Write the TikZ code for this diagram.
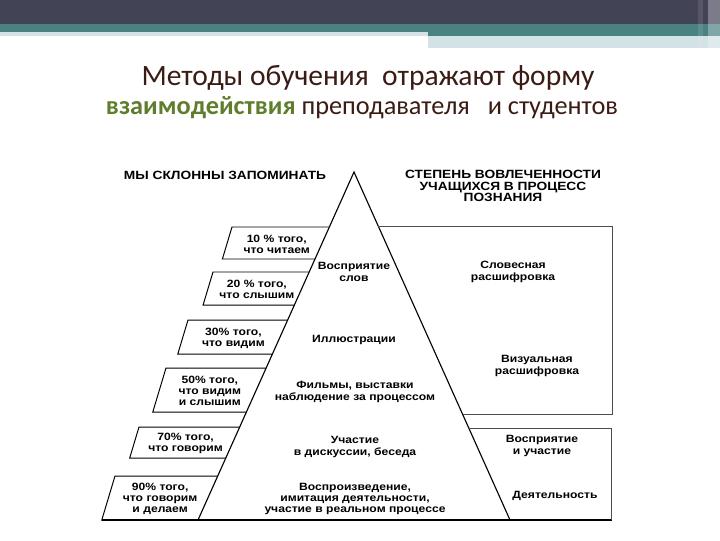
\documentclass[tikz,border=0pt]{standalone}
\usepackage{fontspec}
\setmainfont{Liberation Sans}
\newfontfamily\titlefont{Carlito}
\newfontfamily\schemefont[FakeStretch=1.15]{Liberation Sans}
\usetikzlibrary{calc}
\definecolor{HDdark}{RGB}{67,67,86}
\definecolor{HDteal}{RGB}{74,130,130}
\definecolor{HDlight}{RGB}{210,226,229}
\definecolor{TTbrown}{RGB}{58,28,20}
\definecolor{TTgreen}{RGB}{95,125,45}
\tikzset{
  lbox/.style={black, line width=0.7pt},
  rbox/.style={black!70, line width=0.6pt},
  pyr/.style={black, line width=0.8pt},
  groundline/.style={black, line width=1.2pt},
  bodytext/.style={font=\schemefont\bfseries\fontsize{7.5}{8}\selectfont, align=center, inner sep=0pt},
  headtext/.style={font=\schemefont\bfseries\fontsize{8.5}{8.3}\selectfont, align=center, inner sep=0pt}
}

\begin{document}
\begin{tikzpicture}[x=0.025cm, y=-0.025cm]
    \useasboundingbox (0,0) rectangle (720,540);
    \fill[white] (0,0) rectangle (720,540);
    % Header bars
    \fill[HDdark] (0,0) rectangle (720,24);
    \fill[HDteal] (0,24) rectangle (720,32);
    \fill[HDlight] (0,32) rectangle (428,36);
    \fill[HDteal] (428,32) rectangle (720,36);
    \fill[HDlight] (428,36) rectangle (720,48);
    \fill[white, opacity=0.3] (708,0) rectangle (720,48);
    \fill[white, opacity=0.1] (698,0) rectangle (703,48);
    % Title
    \node[font=\titlefont\fontsize{21}{24}\selectfont, text=TTbrown] (title1) at (368,78)
      {Методы обучения\ \ отражают форму};
    \node[font=\titlefont\fontsize{18.7}{22}\selectfont, text=TTbrown] (title2) at (362,108)
      {\textcolor{TTgreen}{\bfseries взаимодействия} преподавателя\ \ \ и студентов};
    % Pyramid
    \coordinate (apex) at (354,172);
    \coordinate (pbl) at (198,520);
    \coordinate (pbr) at (510,520);
    \draw[pyr] (pbl) -- (apex) -- (pbr);
    \draw[groundline] (102,520) -- (612,520);
    % Left boxes
    \foreach \yt/\yb/\xl/\txt [count=\i] in {
        227/259/232/{10 \% того,\\что читаем},
        272/305/213/{20 \% того,\\что слышим},
        320/354/188/{30\% того,\\что видим},
        368/412/166/{50\% того,\\что видим\\и слышим},
        427/458/139/{70\% того,\\что говорим},
        476/520/115/{90\% того,\\что говорим\\и делаем}}{
      \pgfmathsetmacro\xt{354-0.4483*(\yt-172)}
      \pgfmathsetmacro\xb{354-0.4483*(\yb-172)}
      \pgfmathsetmacro\xlb{\xl-0.3*(\yb-\yt)}
      \draw[lbox] (\xt,\yt) -- (\xl,\yt) -- (\xlb,\yb) -- (\xb,\yb);
      \node[bodytext] (mem\i) at ({(\xl+\xt+\xlb+\xb)/4+2},{(\yt+\yb)/2+1}) {\txt};
    }
    % Right boxes
    \draw[rbox] (378.2,226) -- (612,226) -- (612,414) -- (462.5,414);
    \draw[rbox] (468.8,428) -- (611,428) -- (611,520);
    % Headings
    \node[headtext] (remember) at (225,175) {МЫ СКЛОННЫ ЗАПОМИНАТЬ};
    \node[headtext] (degree) at (503,186) {СТЕПЕНЬ ВОВЛЕЧЕННОСТИ\\УЧАЩИХСЯ В ПРОЦЕСС\\ПОЗНАНИЯ};
    % Pyramid levels
    \node[bodytext] (words) at (354,272) {Восприятие\\слов};
    \node[bodytext] (illus) at (354,340) {Иллюстрации};
    \node[bodytext] (films) at (355,392) {Фильмы, выставки\\наблюдение за процессом};
    \node[bodytext] (talk) at (355,447) {Участие\\в дискуссии, беседа};
    \node[bodytext] (reprod) at (355,499) {Воспроизведение,\\имитация деятельности,\\участие в реальном процессе};
    % Involvement
    \node[bodytext] (verbal) at (513,272) {Словесная\\расшифровка};
    \node[bodytext] (visual) at (537,366) {Визуальная\\расшифровка};
    \node[bodytext] (partic) at (542,446) {Восприятие\\и участие};
    \node[bodytext] (activ) at (555,496) {Деятельность};
  \end{tikzpicture}
\end{document}
